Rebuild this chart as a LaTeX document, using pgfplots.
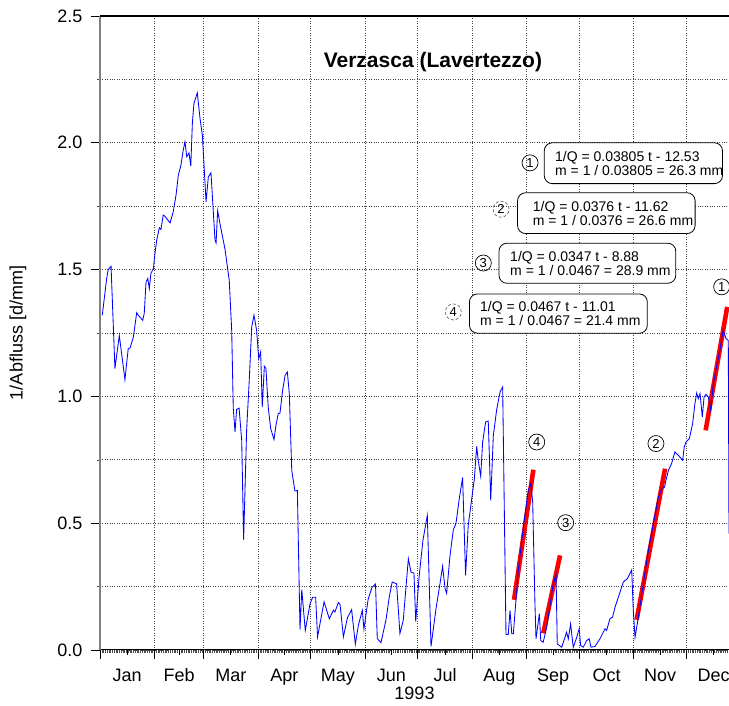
\documentclass[border=0pt]{standalone}
\usepackage{fontspec}
\setmainfont{Liberation Sans}
\usepackage{pgfplots}
\pgfplotsset{compat=1.18}

\begin{document}
\begin{tikzpicture}[x=1pt,y=1pt]
\path[use as bounding box] (-100,-56) rectangle (629,650);
\begin{axis}[
    at={(0,0)}, anchor=south west,
    scale only axis, width=629pt, height=634pt,
    xmin=0, xmax=358.2, ymin=0, ymax=2.5,
    enlargelimits=false,
    axis x line=bottom, axis y line=left,
    axis line style={-},
    x axis line style={black, line width=1pt},
    y axis line style={black!50, line width=1.6pt},
    tick align=outside,
    major tick length=9pt, minor tick length=3pt,
    tick style={black, line width=0.8pt},
    minor tick style={black!70, line width=0.5pt},
    xtick={0,31,59,90,120,151,181,212,243,273,304,334},
    xticklabels={},
    minor xtick={1,2,...,357},
    extra x ticks={15.5,45,74.5,105,135.5,166,196.5,227.5,258,288.5,319,349.5},
    extra x tick labels={Jan,Feb,Mar,Apr,May,Jun,Jul,Aug,Sep,Oct,Nov,Dec},
    extra x tick style={grid=none, major tick length=5pt,
        xticklabel style={yshift=-10pt, text height=13pt, text depth=0pt}},
    ytick={0,0.5,...,2.5},
    minor ytick={0.25,0.75,...,2.25},
    yticklabel style={xshift=-5pt},
    yticklabel={\pgfmathprintnumber[fixed,fixed zerofill,precision=1]{\tick}},
    /pgf/number format/assume math mode=true,
    tick label style={font=\fontsize{18}{20}\selectfont},
    xmajorgrids, ymajorgrids, yminorgrids,
    major grid style={dotted, black!75, line width=0.8pt},
    minor grid style={dotted, black!75, line width=0.8pt},
    xlabel={1993},
    ylabel={1/Abfluss [d/mm]},
    every axis x label/.style={at={(rel axis cs:0.5,0)}, yshift=-43pt, anchor=center,
        font=\fontsize{18}{20}\selectfont},
    every axis y label/.style={at={(rel axis cs:0,0.5)}, xshift=-82pt, rotate=90, anchor=center,
        font=\fontsize{18}{20}\selectfont},
]
% recession fits (drawn under the data line)
\addplot[red, line width=4.6pt] coordinates {(344.9,0.866) (357.2,1.353)};
\addplot[red, line width=4.6pt] coordinates {(305.6,0.119) (321.8,0.715)};
\addplot[red, line width=4.6pt] coordinates {(252.4,0.066) (262.0,0.373)};
\addplot[red, line width=4.6pt] coordinates {(235.8,0.198) (246.8,0.711)};

% daily values 1/Q (x = day of year)
\addplot[blue, line width=0.85pt] coordinates {
(1.3,1.32) (3.8,1.465) (4.7,1.50) (6.3,1.513) (8.5,1.11) (11.0,1.24) (14.2,1.066)
(16.1,1.19) (17.1,1.19) (19.0,1.234) (20.9,1.33) (21.8,1.32) (24.3,1.30) (25.2,1.327)
(26.2,1.45) (27.2,1.465) (28.1,1.425) (29.0,1.485) (30.4,1.504) (31.3,1.563) (32.3,1.616)
(33.8,1.665) (34.7,1.658) (36.0,1.715) (37.0,1.71) (39.9,1.684) (41.7,1.728) (43.3,1.794)
(44.6,1.872) (46.1,1.912) (47.4,1.971) (48.4,2.004) (49.4,1.945) (50.7,1.96) (51.7,1.908)
(52.6,2.077) (53.5,2.155) (55.4,2.197) (56.9,2.10) (58.3,2.03) (60.4,1.767) (61.7,1.866)
(63.2,1.882) (65.5,1.616) (66.1,1.605) (67.0,1.732) (68.3,1.682) (71.2,1.58) (73.6,1.458)
(75.0,1.26) (75.9,0.952) (76.9,0.86) (77.8,0.948) (79.2,0.954) (80.7,0.827) (81.8,0.435)
(83.5,0.866) (85.0,1.064) (86.4,1.274) (87.7,1.32) (89.2,1.26) (90.4,1.149) (91.5,1.175)
(92.4,0.958) (93.6,1.119) (94.5,1.11) (95.8,0.958) (97.2,0.873) (99.1,0.83) (100.2,0.886)
(101.5,0.932) (102.5,0.934) (104.0,1.024) (105.4,1.083) (106.7,1.096) (107.8,1.011)
(109.2,0.708) (111.0,0.627) (112.4,0.629) (113.9,0.08) (114.9,0.238) (116.9,0.077)
(119.6,0.182) (121.1,0.208) (122.8,0.208) (123.9,0.052) (127.6,0.19) (130.6,0.123)
(132.9,0.157) (133.8,0.15) (135.7,0.187) (136.7,0.18) (138.6,0.052) (140.9,0.127)
(143.3,0.159) (145.4,0.023) (147.2,0.10) (149.4,0.156) (150.3,0.082) (152.7,0.20)
(154.9,0.247) (156.9,0.26) (157.9,0.045) (160.0,0.029) (162.9,0.12) (164.7,0.208)
(166.4,0.268) (168.9,0.261) (170.8,0.065) (172.7,0.117) (175.6,0.36) (177.1,0.307)
(178.8,0.303) (179.8,0.112) (181.7,0.287) (183.9,0.432) (186.4,0.531) (188.5,0.014)
(191.3,0.16) (193.6,0.261) (195.1,0.33) (196.5,0.243) (197.4,0.223) (199.3,0.37)
(201.2,0.474) (202.7,0.498) (204.6,0.597) (206.5,0.68) (208.2,0.294) (209.7,0.491)
(211.7,0.597) (213.2,0.676) (214.5,0.803) (215.4,0.748) (216.8,0.685) (217.9,0.82)
(219.6,0.899) (221.1,0.903) (221.7,0.774) (222.5,0.59) (224.0,0.846) (225.9,0.948)
(227.8,1.017) (229.3,1.037) (230.2,0.577) (231.2,0.061) (232.5,0.061) (233.5,0.156)
(234.5,0.064) (235.4,0.064) (238.2,0.314) (241.1,0.485) (243.9,0.63) (245.4,0.656)
(246.4,0.583) (247.7,0.182) (248.3,0.044) (250.2,0.143) (251.0,0.037) (252.4,0.031)
(254.4,0.09) (257.8,0.248) (259.7,0.30) (260.4,0.024) (262.9,0.011) (264.8,0.05)
(265.7,0.07) (266.7,0.044) (268.0,0.103) (269.5,0.011) (271.5,0.05) (272.9,0.084)
(273.7,0.018) (275.2,0.011) (277.1,0.037) (278.6,0.044) (279.6,0.011) (281.9,0.014)
(284.7,0.044) (287.6,0.084) (288.5,0.077) (290.4,0.123) (291.9,0.13) (293.3,0.169)
(295.2,0.208) (298.0,0.268) (300.3,0.281) (302.8,0.316) (303.7,0.156) (304.7,0.05)
(306.6,0.13) (309.4,0.261) (312.3,0.393) (315.1,0.498) (318.0,0.603) (319.9,0.636)
(321.5,0.642) (322.3,0.669) (323.7,0.708) (325.5,0.735) (327.4,0.781) (329.3,0.768)
(331.8,0.748) (332.7,0.80) (333.7,0.82) (335.6,0.833) (337.5,0.893) (338.8,0.972)
(339.8,1.013) (340.7,0.991) (341.7,1.011) (343.0,0.919) (344.0,0.998) (345.1,1.008)
(346.4,0.998) (347.8,0.945) (349.3,1.05) (351.1,1.116) (353.0,1.182) (354.9,1.261)
(356.5,1.228) (357.8,1.221) (358.2,0.459)
};

\node[font=\bfseries\fontsize{21}{23}\selectfont] at (axis cs:189.6,2.318) {Verzasca (Lavertezzo)};

% equation boxes
\tikzset{eqbox/.style={draw=black, line width=0.8pt, fill=white, rounded corners=8pt},
         eqtxt/.style={anchor=west, align=left, inner sep=0pt, font=\fontsize{14}{14}\selectfont},
         num/.style={circle, draw=black, line width=0.7pt, inner sep=0pt, minimum size=16pt, font=\fontsize{13}{13}\selectfont},
         numd/.style={num, draw=black!60, densely dashed}}
\draw[eqbox] (axis cs:253.0,2.000) rectangle (axis cs:354.5,1.839);
\node[eqtxt] at (axis cs:259.1,1.918) {1/Q = 0.03805 t - 12.53\\m = 1 / 0.03805 = 26.3 mm};
\draw[eqbox] (axis cs:237.8,1.803) rectangle (axis cs:338.9,1.642);
\node[eqtxt] at (axis cs:246.4,1.7225) {1/Q = 0.0376 t - 11.62\\m = 1 / 0.0376 = 26.6 mm};
\draw[eqbox] (axis cs:227.2,1.604) rectangle (axis cs:327.9,1.446);
\node[eqtxt] at (axis cs:233.5,1.525) {1/Q = 0.0347 t - 8.88\\m = 1 / 0.0467 = 28.9 mm};
\draw[eqbox] (axis cs:210.4,1.404) rectangle (axis cs:311.7,1.249);
\node[eqtxt] at (axis cs:216.4,1.326) {1/Q = 0.0467 t - 11.01\\m = 1 / 0.0467 = 21.4 mm};

\node[num]  at (axis cs:244.9,1.921) {1};
\node[numd] at (axis cs:228.4,1.738) {2};
\node[num]  at (axis cs:218.3,1.526) {3};
\node[numd] at (axis cs:201.2,1.333) {4};

\node[num] at (axis cs:248.7,0.820) {4};
\node[num] at (axis cs:265.2,0.502) {3};
\node[num] at (axis cs:316.6,0.814) {2};
\node[num] at (axis cs:354.0,1.432) {1};

\draw[black, line width=1.2pt] (rel axis cs:0,1) -- (rel axis cs:1,1);
\end{axis}
\end{tikzpicture}
\end{document}
